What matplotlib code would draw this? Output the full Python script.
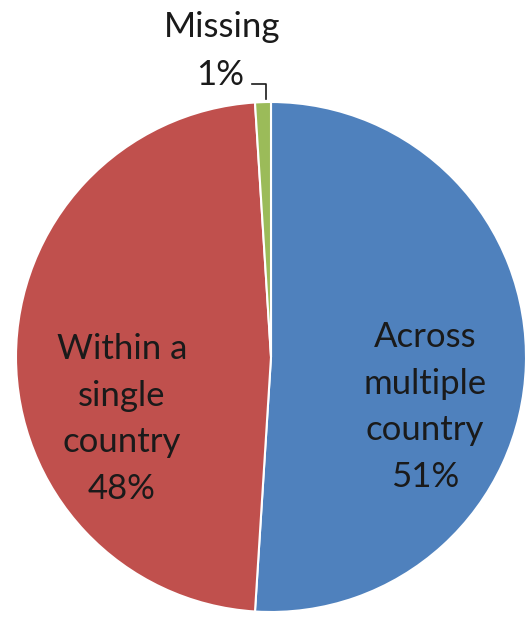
import matplotlib
matplotlib.use("Agg")
import matplotlib.pyplot as plt

# Share of projects by geographic scope
categories = ["Across\nmultiple\ncountry", "Within a\nsingle\ncountry", "Missing"]
values = [51, 48, 1]
colors = ["#4F81BD", "#C0504D", "#9BBB59"]

W, H = 528, 621
fig = plt.figure(figsize=(W / 100, H / 100), dpi=100)
ax = fig.add_axes([0, 0, 1, 1])

cx, cy, r = 271, H - 357, 255
ax.pie(values, colors=colors, startangle=90, counterclock=False,
       center=(cx, cy), radius=r, frame=True,
       wedgeprops=dict(edgecolor="white", linewidth=1.5))

ax.set_xlim(0, W)
ax.set_ylim(0, H)
ax.set_aspect("equal")
ax.axis("off")

font = dict(family=["Lato", "DejaVu Sans"], fontsize=25, color="#1a1a1a",
            ha="center", va="center", linespacing=1.57)

# in-slice labels
ax.text(425, H - 407, f"{categories[0]}\n{values[0]}%", **font)
ax.text(122, H - 419, f"{categories[1]}\n{values[1]}%", **font)

# outside label for the thin slice, with leader line
ax.text(222, H - 27, categories[2], **font)
ax.text(220, H - 75, f"{values[2]}%", **font)
ax.plot([252, 266, 266], [H - 84, H - 84, H - 99], color="#1a1a1a", lw=1.2)

fig.savefig("out.png", dpi=100)
